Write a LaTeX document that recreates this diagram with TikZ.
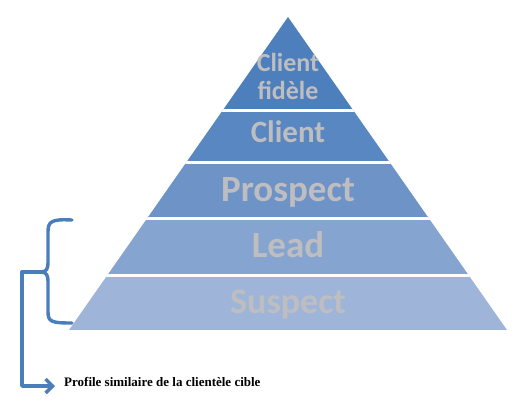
\documentclass[tikz,border=0pt]{standalone}
\usepackage{fontspec}
\usetikzlibrary{arrows.meta}
\newfontfamily\bandFont{Carlito}
\newfontfamily\noteFont{Liberation Serif}
\tikzstyle{pyramid} = [x = 1pt, y = -1pt]
\definecolor{bandTop}{RGB}{77,127,188}
\definecolor{bandClient}{RGB}{88,135,193}
\definecolor{bandProspect}{RGB}{110,147,199}
\definecolor{bandLead}{RGB}{134,164,208}
\definecolor{bandSuspect}{RGB}{158,181,217}
\definecolor{braceColor}{RGB}{74,126,187}
\definecolor{labelGray}{RGB}{190,190,193}
\tikzstyle{separatorLine} = [color=white, line width=3pt]
\tikzstyle{bandText} = [text=labelGray, align=center, inner sep=0pt, anchor=base]
\tikzstyle{braceLine} = [color=braceColor, line width=3.4pt, line cap=round, line join=round]
\tikzstyle{noteText} = [font=\noteFont\bfseries\fontsize{13}{15}\selectfont, anchor=base west, inner sep=0pt]
\newcommand{\band}[3]{\fill [#3] (0,#1) rectangle (530,#2);}
\newcommand{\separator}[1]{\draw [separatorLine] (0,#1) -- (530,#1);}
\newcommand{\bandLabel}[4]{\node [bandText, font=\bandFont\bfseries\fontsize{#3}{#3}\selectfont] (#1) at (288,#2) {#4};}

\begin{document}
\begin{tikzpicture}[pyramid]
        \useasboundingbox (0,0) rectangle (530,416);

        % pyramid bands
        \begin{scope}
          \clip (288,17) -- (507,330) -- (69,330) -- cycle;
          \band{0}{110}{bandTop}
          \band{110}{162}{bandClient}
          \band{162}{218}{bandProspect}
          \band{218}{275}{bandLead}
          \band{275}{330}{bandSuspect}
          \separator{110}
          \separator{162}
          \separator{218}
          \separator{275}
        \end{scope}

        \node [bandText, font=\bandFont\bfseries\fontsize{26}{27.5}\selectfont] (fidele) at (288,99) {Client\\fidèle};
        \bandLabel{client}{142}{31}{Client}
        \bandLabel{prospect}{201}{37}{Prospect}
        \bandLabel{lead}{257}{37}{Lead}
        \bandLabel{suspect}{313}{36}{Suspect}

        % brace on lead and suspect
        \coordinate (tip) at (42,272);
        \draw [braceLine] (72,220) .. controls (52,219) and (48,221) .. (48,232) -- (48,262)
              .. controls (48,270) and (46,271) .. (tip)
              .. controls (46,273) and (48,274) .. (48,282) -- (48,312)
              .. controls (48,322) and (52,323) .. (72,323);

        \node [noteText] (profil) at (64,386) {Profile similaire de la clientèle cible};
        \draw [braceLine, -{Straight Barb[length=7pt, width=14pt]}] (tip) -- ++(-20,0) |- ([xshift=-9pt]profil.base west);
\end{tikzpicture}
\end{document}
